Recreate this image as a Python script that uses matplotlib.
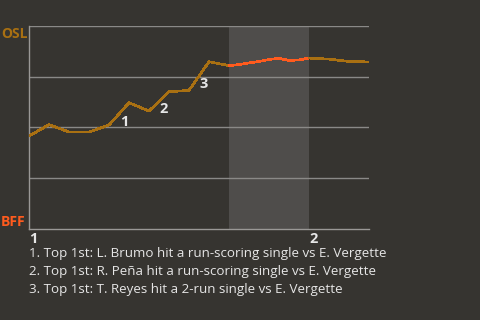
import matplotlib
matplotlib.use("Agg")
import matplotlib.pyplot as plt
from matplotlib.transforms import offset_copy

# Win probability for OSL (percent) by play; x is play index
top1_x = [0, 1, 2, 3, 4, 5, 6, 7, 8, 9, 10]
top1_wp = [45.8, 51.4, 47.8, 47.8, 51.2, 62.2, 58.1, 67.6, 68.3, 82.4, 80.5]
bot1_x = [10, 10.5, 11, 11.5, 12, 12.5, 13, 13.5, 14]
bot1_wp = [80.5, 81.0, 81.8, 82.5, 83.5, 84.1, 83.0, 83.3, 84.2]
top2_x = [14, 15, 16, 17]
top2_wp = [84.2, 83.7, 82.5, 82.3]

inning_ticks = [0, 14]
inning_labels = ["1", "2"]

# scoring plays: (segment start index in top1, label)
scoring_idx = [4, 6, 8]
scoring_labels = ["1", "2", "3"]
notes = [
    "1. Top 1st: L. Brumo hit a run-scoring single vs E. Vergette",
    "2. Top 1st: R. Peña hit a run-scoring single vs E. Vergette",
    "3. Top 1st: T. Reyes hit a 2-run single vs E. Vergette",
]

BG = "#363430"
GOLD = "#a97012"
RED = "#ff5b1e"
GRID = "#8a8987"
TXT = "#e6e6e6"
FONT = ["Open Sans", "DejaVu Sans"]

fig = plt.figure(figsize=(4.8, 3.2), dpi=100, facecolor=BG)
ax = fig.add_axes([29 / 480, 91 / 320, 340 / 480, 203 / 320])
ax.set_facecolor(BG)
ax.set_xlim(0, 17)
ax.set_ylim(0, 100)

# bottom half-inning shading
ax.axvspan(bot1_x[0], bot1_x[-1], color="#4f4d4b", lw=0, zorder=0)

for yv in [25, 50, 75, 100]:
    ax.axhline(yv, color=GRID, lw=1, zorder=1)

for s in ["top", "right"]:
    ax.spines[s].set_visible(False)
for s in ["left", "bottom"]:
    ax.spines[s].set_color("#9a9896")
    ax.spines[s].set_linewidth(1)

ax.plot(top1_x, top1_wp, color=GOLD, lw=1.2, zorder=3, antialiased=False)
ax.plot(bot1_x, bot1_wp, color=RED, lw=1.2, zorder=3, antialiased=False)
ax.plot(top2_x, top2_wp, color=GOLD, lw=1.2, zorder=3, antialiased=False)

for i, lab in zip(scoring_idx, scoring_labels):
    mx = (top1_x[i] + top1_x[i + 1]) / 2
    my = (top1_wp[i] + top1_wp[i + 1]) / 2
    tr = offset_copy(ax.transData, fig=fig, x=5, y=-8, units="dots")
    ax.text(mx, my, lab, transform=tr, color=TXT, fontsize=10.5,
            fontweight="bold", family=FONT, ha="center", va="center", zorder=4)

ax.set_yticks([])
ax.set_xticks(inning_ticks)
ax.set_xticklabels(inning_labels)
ax.tick_params(axis="x", length=0, pad=2, colors=TXT, labelsize=10.5)
for t in ax.get_xticklabels():
    t.set_fontweight("bold")
    t.set_family(FONT)
    t.set_horizontalalignment("left")

fig.text(1 / 480, 1 - 33.5 / 320, "OSL", color=GOLD, fontsize=10, fontweight="bold",
         family=FONT, ha="left", va="center")
fig.text(1 / 480, 1 - 221.5 / 320, "BFF", color=RED, fontsize=10, fontweight="bold",
         family=FONT, ha="left", va="center")

for k, line in enumerate(notes):
    fig.text(29 / 480, 1 - (254 + 18 * k) / 320, line, color=TXT, fontsize=9.6,
             family=FONT, ha="left", va="center")

fig.savefig("out.png", dpi=100, facecolor=BG)
